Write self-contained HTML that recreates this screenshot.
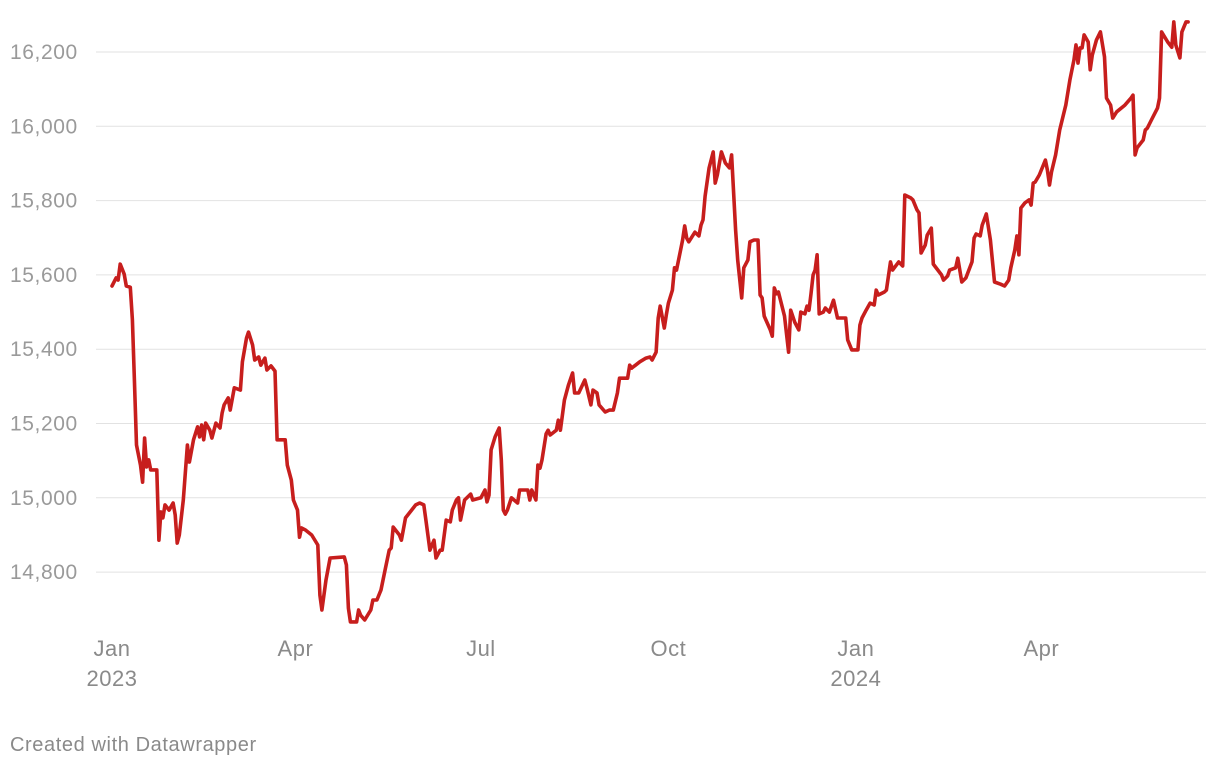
<!DOCTYPE html>
<html><head><meta charset="utf-8">
<style>
html,body{margin:0;padding:0;background:#fff;width:1220px;height:768px;overflow:hidden;font-family:"Liberation Sans",sans-serif;}
svg{position:absolute;left:0;top:0;}
</style></head>
<body>
<svg id="chart" width="1220" height="768" xmlns="http://www.w3.org/2000/svg">
<g id="grid"></g>
<g id="ylabels"></g>
<g id="xlabels"></g>
<path id="line" fill="none" stroke="#c71e1d" stroke-width="3.6" stroke-linejoin="round" stroke-linecap="round"/>
<text x="10" y="751" font-size="20" letter-spacing="0.6" fill="#8a8a8a">Created with Datawrapper</text>
</svg>
<script>
// days since 2023-01-01
const days = [0,2,3,4,6,7,9,10,11,12,14,15,16,17,18,19,22,23,24,25,26,28,30,31,32,33,35,37,38,40,42,43,44,45,46,48,49,51,53,54,55,57,58,60,63,64,66,67,69,70,72,73,75,76,78,80,81,85,86,88,89,91,92,93,95,98,101,102,103,105,107,114,115,116,117,120,121,122,124,127,128,130,132,134,136,137,138,141,142,144,147,149,151,153,154,156,158,159,161,162,164,166,167,169,170,171,173,176,177,181,183,184,185,186,188,190,191,192,193,194,196,199,200,204,205,206,208,209,210,211,213,214,215,218,219,220,222,224,226,227,229,232,233,235,236,238,239,242,244,246,248,249,253,254,255,259,262,264,265,267,268,269,271,272,273,275,276,277,279,280,281,282,283,286,288,289,290,291,293,295,296,297,299,301,303,304,306,307,309,310,312,313,315,317,318,319,320,323,324,325,326,327,328,330,332,333,335,337,338,340,341,342,343,344,345,346,347,349,350,352,354,356,360,361,363,366,367,368,370,372,374,375,376,379,380,382,383,386,388,389,392,393,395,396,397,399,400,402,403,407,408,410,411,414,415,417,419,422,423,424,426,427,429,431,433,436,438,440,441,443,444,445,446,448,450,451,452,453,455,458,459,460,461,463,465,468,470,472,473,474,475,476,477,479,480,481,483,485,487,488,490,491,493,497,500,501,502,503,506,507,508,510,513,514,515,518,520,521,522,524,525,527,528];
const values = [15570,15592,15586,15629,15602,15570,15567,15479,15317,15142,15088,15042,15161,15083,15102,15075,15075,14886,14962,14946,14981,14967,14986,14954,14878,14900,14994,15142,15096,15156,15191,15164,15196,15156,15201,15182,15161,15201,15188,15228,15250,15269,15236,15296,15290,15366,15430,15446,15411,15371,15379,15357,15376,15344,15355,15341,15156,15156,15088,15048,14994,14967,14894,14919,14913,14900,14873,14738,14698,14779,14838,14841,14819,14703,14666,14666,14698,14684,14671,14698,14725,14725,14752,14806,14859,14865,14921,14900,14886,14946,14967,14981,14986,14981,14940,14859,14886,14838,14859,14859,14940,14935,14967,14994,15000,14940,14994,15010,14994,15000,15021,14989,15007,15129,15164,15188,15102,14967,14956,14967,15000,14986,15021,15021,14994,15021,14994,15088,15080,15102,15172,15182,15169,15182,15209,15182,15263,15304,15336,15282,15282,15317,15296,15250,15290,15282,15250,15231,15236,15236,15282,15322,15322,15357,15349,15366,15376,15379,15371,15392,15484,15516,15457,15492,15524,15559,15619,15613,15667,15694,15732,15699,15689,15715,15705,15734,15748,15812,15888,15931,15847,15869,15931,15901,15888,15923,15721,15640,15538,15619,15640,15689,15694,15694,15546,15538,15489,15452,15435,15565,15549,15554,15532,15489,15392,15505,15473,15452,15500,15495,15516,15505,15549,15600,15613,15654,15495,15500,15511,15500,15532,15484,15484,15425,15398,15398,15465,15484,15505,15524,15519,15559,15546,15554,15559,15635,15613,15635,15624,15815,15807,15802,15775,15767,15659,15680,15707,15726,15629,15600,15586,15597,15613,15619,15645,15581,15592,15635,15699,15710,15705,15734,15764,15694,15581,15575,15570,15586,15619,15667,15705,15654,15780,15794,15802,15788,15847,15850,15869,15909,15882,15842,15877,15923,15990,16057,16125,16178,16219,16170,16211,16211,16246,16227,16152,16192,16232,16254,16187,16076,16057,16022,16039,16057,16076,16084,15923,15942,15963,15990,15995,16017,16049,16076,16254,16227,16213,16281,16219,16184,16254,16281,16281];
const yTicks = [14800,15000,15200,15400,15600,15800,16000,16200];
const yTickLabels = ["14,800","15,000","15,200","15,400","15,600","15,800","16,000","16,200"];
const xTickDays = [0,90,181,273,365,456];
const xTickMonths = ["Jan","Apr","Jul","Oct","Jan","Apr"];
const xTickYears = ["2023","","","","2024",""];

const NS="http://www.w3.org/2000/svg";
const xs = d => 112 + d*2.038;
const ys = v => 52 + (16200 - v)*0.3715;

const grid=document.getElementById('grid'), yl=document.getElementById('ylabels'), xl=document.getElementById('xlabels');
yTicks.forEach((t,i)=>{
  const l=document.createElementNS(NS,'line');
  l.setAttribute('x1',96);l.setAttribute('x2',1206);
  l.setAttribute('y1',ys(t));l.setAttribute('y2',ys(t));
  l.setAttribute('stroke','#e2e2e2');l.setAttribute('stroke-width','1');
  
  
  grid.appendChild(l);
  const tx=document.createElementNS(NS,'text');
  tx.setAttribute('x',10);tx.setAttribute('y',ys(t)+7);
  tx.setAttribute('font-size','21');tx.setAttribute('letter-spacing','0.6');tx.setAttribute('fill','#9a9a9a');
  tx.textContent=yTickLabels[i];
  
  
  yl.appendChild(tx);
});
xTickDays.forEach((d,i)=>{
  const tx=document.createElementNS(NS,'text');
  tx.setAttribute('x',xs(d));tx.setAttribute('y',656);
  tx.setAttribute('font-size','22');tx.setAttribute('letter-spacing','0.5');tx.setAttribute('fill','#8a8a8a');tx.setAttribute('text-anchor','middle');
  tx.textContent=xTickMonths[i];
  
  
  xl.appendChild(tx);
  if(xTickYears[i]){
    const ty=document.createElementNS(NS,'text');
    ty.setAttribute('x',xs(d));ty.setAttribute('y',686);
    ty.setAttribute('font-size','22');ty.setAttribute('letter-spacing','0.5');ty.setAttribute('fill','#8a8a8a');ty.setAttribute('text-anchor','middle');
    ty.textContent=xTickYears[i];
    
    
    xl.appendChild(ty);
  }
});
let dstr='';
days.forEach((d,i)=>{dstr+=(i?'L':'M')+xs(d).toFixed(1)+','+ys(values[i]).toFixed(1);});
document.getElementById('line').setAttribute('d',dstr);
</script>
</body></html>
